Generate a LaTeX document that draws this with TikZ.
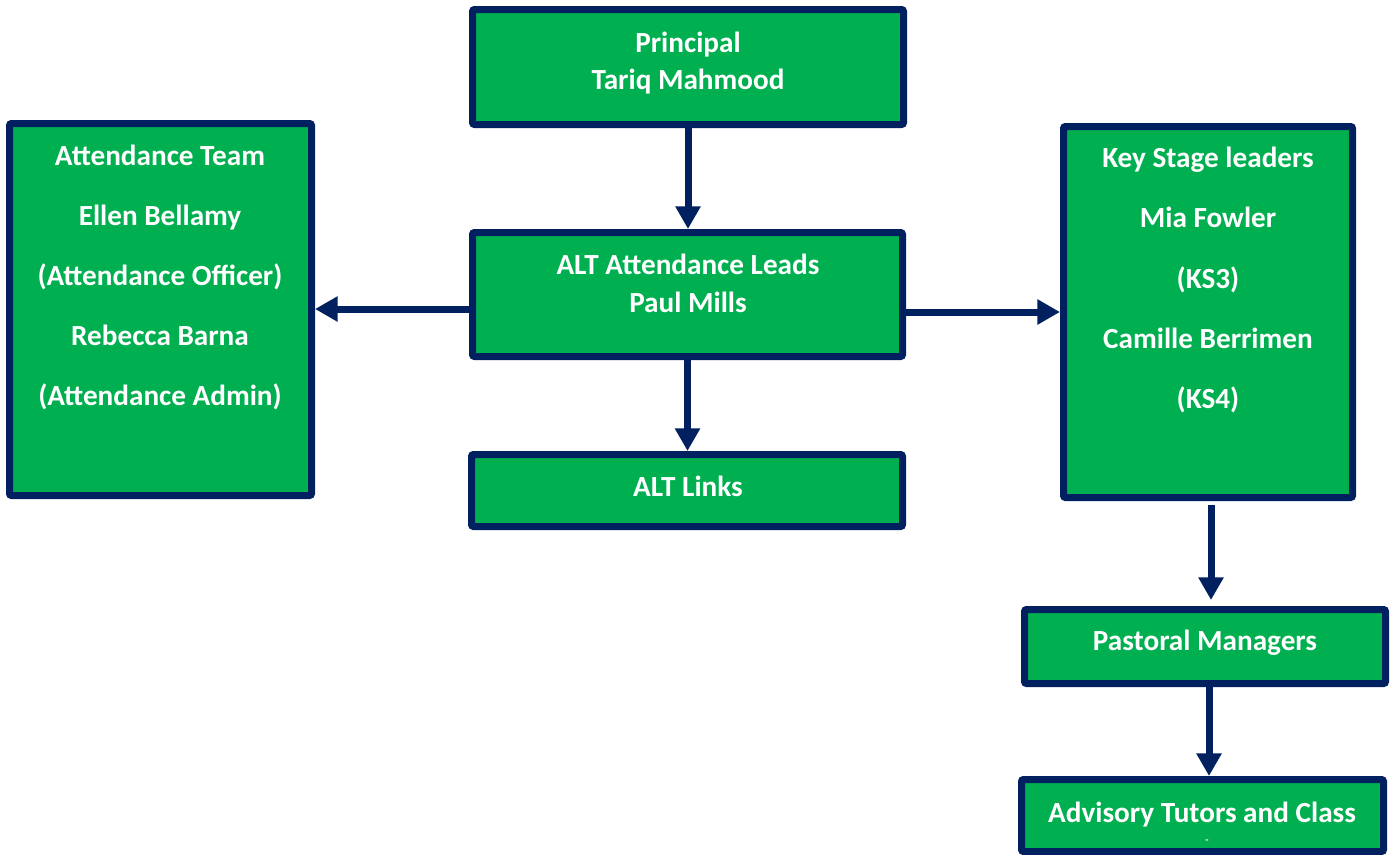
\documentclass[tikz,border=0pt]{standalone}
\usepackage{fontspec}
\setmainfont{Carlito}
\usetikzlibrary{arrows.meta,calc,fit}
\definecolor{boxgreen}{HTML}{00B050}
\definecolor{navy}{HTML}{002060}
\begin{document}
\begin{tikzpicture}[x=0.75pt,y=-0.75pt,
  box/.style={draw=navy,fill=boxgreen,line width=5.25pt,rounded corners=1.5pt,inner sep=0pt},
  txt/.style={text=white,font=\fontsize{21.9pt}{26pt}\selectfont\bfseries,anchor=base,inner sep=0pt},
  link/.style={draw=navy,line width=5.25pt,-{Triangle[width=18pt,length=17pt]}}]
\useasboundingbox (0,0) rectangle (1391,854);
\begin{scope}
\clip (0,0) rectangle (1391,854);
% boxes
\node[box,fit={(472.5,9.5) (903.5,124.5)}] (principal) {};
\node[box,fit={(472.5,232.5) (902.5,356.5)}] (leads) {};
\node[box,fit={(471.5,454.5) (902.5,526.5)}] (links) {};
\node[box,fit={(9.5,123.5) (311.5,495.5)}] (team) {};
\node[box,fit={(1063.5,126.5) (1352.5,497.5)}] (ks) {};
\node[box,fit={(1024.5,609.5) (1385.5,683.5)}] (pastoral) {};
\node[box,fit={(1021.5,779.5) (1383.5,851.5)}] (advisory) {};

% texts
\node[txt] (t1) at (688,52) {Principal};
\node[txt] (t2) at (688,89) {Tariq Mahmood};
\node[txt] (t3) at (688,274) {ALT Attendance Leads};
\node[txt] (t4) at (688,312) {Paul Mills};
\node[txt] (t5) at (688,496) {ALT Links};
\node[txt] (t6) at (160,165) {Attendance Team};
\node[txt] (t7) at (160,225) {Ellen Bellamy};
\node[txt] (t8) at (160,285) {(Attendance Officer)};
\node[txt] (t9) at (160,345) {Rebecca Barna};
\node[txt] (t10) at (160,405) {(Attendance Admin)};
\node[txt] (t11) at (1208,167) {Key Stage leaders};
\node[txt] (t12) at (1208,227) {Mia Fowler};
\node[txt] (t13) at (1208,288) {(KS3)};
\node[txt] (t14) at (1208,348) {Camille Berrimen};
\node[txt] (t15) at (1208,408) {(KS4)};
\node[txt] (t16) at (1205,650) {Pastoral Managers};
\node[txt] (t17) at (1202,822) {Advisory Tutors and Class};
\node[txt,font=\fontsize{8pt}{9pt}\selectfont\bfseries] (t18) at (1207,843) {-};

% connectors (node anchors sit on the outer edge of the borders)
\draw[link] (principal.south) -- (principal.south |- leads.north);
\draw[link] (leads.south) -- (leads.south |- links.north);
\draw[link] ($(leads.west)+(0,14.5)$) -- ($(team.east |- leads.west)+(0,14.5)$);
\draw[link] ($(leads.east)+(0,17.5)$) -- ($(ks.west |- leads.east)+(0,17.5)$);
\draw[link,shorten <=3pt,shorten >=4.5pt] ($(ks.south)+(3,0)$) -- ($(ks.south |- pastoral.north)+(3,0)$);
\draw[link] ($(pastoral.south)+(4,0)$) -- ($(pastoral.south |- advisory.north)+(4,0)$);
\end{scope}
\end{tikzpicture}
\end{document}
